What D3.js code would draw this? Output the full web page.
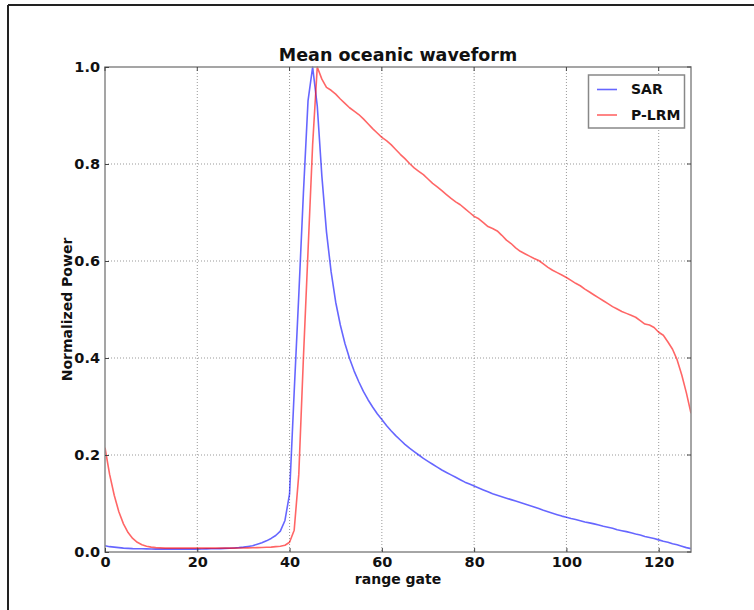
<!DOCTYPE html>
<html><head><meta charset="utf-8">
<script src="https://cdn.jsdelivr.net/npm/d3@7"></script>
<style>
html,body{margin:0;padding:0;background:#fff;}
svg{display:block;font-family:"DejaVu Sans",sans-serif;}
</style></head>
<body>
<svg id="chart" width="754" height="610"></svg>
<script>
const title = "Mean oceanic waveform";
const xLabel = "range gate";
const yLabel = "Normalized Power";
const seriesNames = ["SAR", "P-LRM"];
const seriesColors = ["#0000ff", "#ff0000"];
const xTicks = [0, 20, 40, 60, 80, 100, 120];
const yTicks = [0.0, 0.2, 0.4, 0.6, 0.8, 1.0];

// SAR waveform, gates 0..127
const sar = [
0.013,0.011,0.010,0.009,0.008,0.0075,0.007,0.0068,0.0066,0.0064,
0.0062,0.006,0.006,0.006,0.006,0.006,0.006,0.006,0.006,0.006,
0.006,0.0062,0.0064,0.0066,0.0068,0.007,0.0074,0.0078,0.0083,0.009,
0.010,0.0115,0.013,0.016,0.019,0.023,0.028,0.034,0.043,0.065,
0.12,0.33,0.53,0.74,0.93,1.0,0.92,0.775,0.66,0.578,
0.515,0.468,0.430,0.399,0.373,0.351,0.331,0.314,0.299,0.285,
0.273,0.261,0.250,0.240,0.231,0.222,0.214,0.207,0.200,0.193,
0.187,0.181,0.175,0.169,0.164,0.159,0.154,0.149,0.144,0.140,
0.136,0.132,0.128,0.124,0.120,0.117,0.114,0.111,0.108,0.105,
0.102,0.099,0.096,0.093,0.0895,0.086,0.083,0.080,0.077,0.074,
0.0715,0.069,0.067,0.0645,0.062,0.060,0.058,0.0555,0.053,0.051,
0.049,0.046,0.044,0.042,0.0395,0.037,0.035,0.032,0.030,0.028,
0.025,0.022,0.020,0.017,0.015,0.012,0.009,0.007
];

// P-LRM waveform, gates 0..127
const plrm = [
0.215,0.160,0.117,0.083,0.058,0.040,0.028,0.020,0.015,0.012,
0.010,0.009,0.0085,0.008,0.008,0.008,0.008,0.008,0.008,0.008,
0.008,0.008,0.008,0.008,0.008,0.008,0.008,0.008,0.008,0.0082,
0.0084,0.0086,0.0088,0.009,0.0093,0.0097,0.010,0.011,0.012,0.014,
0.020,0.045,0.16,0.40,0.62,0.84,1.0,0.975,0.958,0.952,
0.944,0.934,0.925,0.916,0.909,0.902,0.893,0.883,0.873,0.864,
0.855,0.848,0.840,0.830,0.820,0.811,0.801,0.792,0.785,0.778,
0.769,0.760,0.753,0.745,0.737,0.729,0.722,0.716,0.708,0.700,
0.692,0.687,0.679,0.671,0.667,0.662,0.653,0.643,0.636,0.627,
0.620,0.615,0.610,0.605,0.601,0.594,0.587,0.581,0.576,0.571,
0.566,0.560,0.554,0.549,0.542,0.536,0.530,0.524,0.518,0.512,
0.506,0.501,0.496,0.492,0.488,0.484,0.477,0.470,0.468,0.463,
0.453,0.447,0.433,0.418,0.396,0.365,0.328,0.286
];

const svg = d3.select("#chart");
const m = {left:105, top:67, right:691, bottom:552};

// outer frame
svg.append("line").attr("x1",8).attr("y1",5).attr("x2",754).attr("y2",5)
  .attr("stroke","#222").attr("stroke-width",2);
svg.append("line").attr("x1",8).attr("y1",5).attr("x2",8).attr("y2",610)
  .attr("stroke","#222").attr("stroke-width",2);

const x = d3.scaleLinear().domain([0,127]).range([m.left, m.right]);
const y = d3.scaleLinear().domain([0,1]).range([m.bottom, m.top]);

// grid
const grid = svg.append("g");
grid.selectAll(".gx").data(xTicks.filter(d=>d>0)).join("line")
  .attr("x1",d=>x(d)).attr("x2",d=>x(d)).attr("y1",m.top).attr("y2",m.bottom)
  .attr("stroke","#999").attr("stroke-width",1).attr("stroke-dasharray","1,2");
grid.selectAll(".gy").data(yTicks.filter(d=>d>0 && d<1)).join("line")
  .attr("x1",m.left).attr("x2",m.right).attr("y1",d=>y(d)).attr("y2",d=>y(d))
  .attr("stroke","#999").attr("stroke-width",1).attr("stroke-dasharray","1,2");

// lines
const line = d3.line().x((d,i)=>x(i)).y(d=>y(d));
svg.append("clipPath").attr("id","clip").append("rect")
  .attr("x",m.left).attr("y",m.top-2).attr("width",m.right-m.left).attr("height",m.bottom-m.top+2);
const lines = svg.append("g").attr("clip-path","url(#clip)");
[sar, plrm].forEach((s,k)=>{
  lines.append("path").datum(s).attr("d",line).attr("fill","none")
    .attr("stroke",seriesColors[k]).attr("stroke-opacity",0.6).attr("stroke-width",1.6)
    .attr("stroke-linejoin","round");
});

// axes box
svg.append("rect").attr("x",m.left).attr("y",m.top).attr("width",m.right-m.left).attr("height",m.bottom-m.top)
  .attr("fill","none").attr("stroke","#888").attr("stroke-width",1.5);

// axes
const xAxis = d3.axisBottom(x).tickValues(xTicks).tickSize(-4).tickPadding(5).tickFormat(d3.format("d"));
const gx = svg.append("g").attr("transform",`translate(0,${m.bottom})`).call(xAxis);
const yAxis = d3.axisLeft(y).tickValues(yTicks).tickSize(-4).tickPadding(5).tickFormat(d3.format(".1f"));
const gy = svg.append("g").attr("transform",`translate(${m.left},0)`).call(yAxis);
[gx,gy].forEach(g=>{
  g.select(".domain").remove();
  g.selectAll(".tick line").attr("stroke","#444");
  g.selectAll(".tick text").attr("font-size",14.5).attr("font-weight","bold")
   .attr("fill","#111").attr("font-family","DejaVu Sans");
});
// top & right ticks
svg.append("g").selectAll("line").data(xTicks).join("line")
  .attr("x1",d=>x(d)).attr("x2",d=>x(d)).attr("y1",m.top).attr("y2",m.top+4).attr("stroke","#444");
svg.append("g").selectAll("line").data(yTicks).join("line")
  .attr("x1",m.right-4).attr("x2",m.right).attr("y1",d=>y(d)).attr("y2",d=>y(d)).attr("stroke","#444");

// title & labels
svg.append("text").attr("x",(m.left+m.right)/2).attr("y",60.5).attr("text-anchor","middle")
  .attr("font-size",17.5).attr("font-weight","bold").attr("fill","#111").text(title);
svg.append("text").attr("x",(m.left+m.right)/2).attr("y",584).attr("text-anchor","middle")
  .attr("font-size",14).attr("font-weight","bold").attr("fill","#111").text(xLabel);
svg.append("text").attr("transform",`translate(72,${(m.top+m.bottom)/2}) rotate(-90)`).attr("text-anchor","middle")
  .attr("font-size",14).attr("font-weight","bold").attr("fill","#111").text(yLabel);

// legend
const lg = svg.append("g");
lg.append("rect").attr("x",588.5).attr("y",75).attr("width",96).attr("height",53)
  .attr("fill","#fff").attr("stroke","#888").attr("stroke-width",1.5);
seriesNames.forEach((n,k)=>{
  const yy = 89.5 + k*25.5;
  lg.append("line").attr("x1",597).attr("x2",617).attr("y1",yy).attr("y2",yy)
    .attr("stroke",seriesColors[k]).attr("stroke-opacity",0.6).attr("stroke-width",1.6);
  lg.append("text").attr("x",631).attr("y",yy).attr("dy","0.35em")
    .attr("font-size",14).attr("font-weight","bold").attr("fill","#111").text(n);
});
</script>
</body></html>
